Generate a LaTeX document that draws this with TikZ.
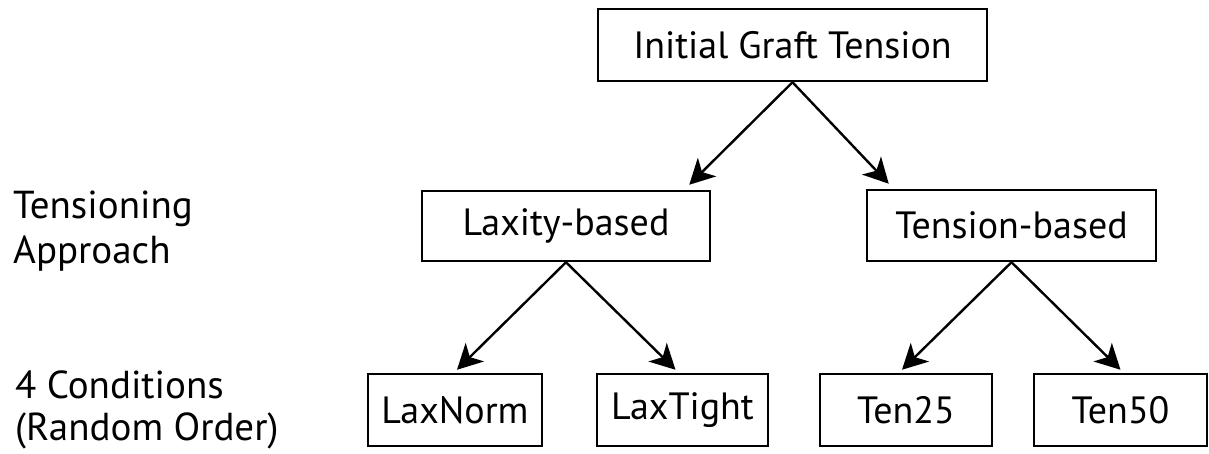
\documentclass[tikz,border=0pt]{standalone}
\usepackage{fontspec}
\setmainfont{PT Sans}
\usetikzlibrary{arrows.meta}
\tikzset{
  box/.style={draw, line width=2.5pt, rectangle, inner sep=0pt, minimum height=72pt, font=\fontsize{38}{44}\selectfont},
  arr/.style={line width=2.4pt, -{Stealth[length=25pt,width=26pt,inset=7pt]}},
  lbl/.style={anchor=north west, inner sep=0pt, align=left, font=\fontsize{39}{45}\selectfont}
}
\begin{document}
\begin{tikzpicture}[x=1pt,y=-1pt]
\useasboundingbox (0,0) rectangle (1209,453);
\node[box, minimum width=389pt] (top) at (792.5,45) {Initial Graft Tension};
\node[box, minimum width=288pt, minimum height=70pt] (lax) at (566,226) {Laxity-based};
\node[box, minimum width=289pt, minimum height=71pt] (ten) at (1011.5,225.5) {Tension-based};
\node[box, minimum width=174pt] (laxnorm) at (455,410) {LaxNorm};
\node[box, minimum width=171pt] (laxtight) at (682.5,410) {LaxTight};
\node[box, minimum width=172pt] (ten25) at (906,410) {Ten25};
\node[box, minimum width=173pt] (ten50) at (1120.5,410) {Ten50};
\node[lbl] (appr) at (13,191) {Tensioning\\Approach};
\node[lbl, font=\fontsize{39}{42}\selectfont] (cond) at (15,371) {4 Conditions\\(Random Order)};
\draw[arr] (top.south) -- ([xshift=-22pt,yshift=5pt]lax.north east);
\draw[arr] (top.south) -- ([xshift=23pt,yshift=5pt]ten.north west);
\draw[arr] (lax.south) -- ([xshift=2pt,yshift=3pt]laxnorm.north);
\draw[arr] (lax.south) -- ([xshift=-7pt,yshift=3pt]laxtight.north);
\draw[arr] (ten.south) -- ([xshift=-4pt,yshift=3pt]ten25.north);
\draw[arr] (ten.south) -- ([yshift=3pt]ten50.north);
\end{tikzpicture}
\end{document}
